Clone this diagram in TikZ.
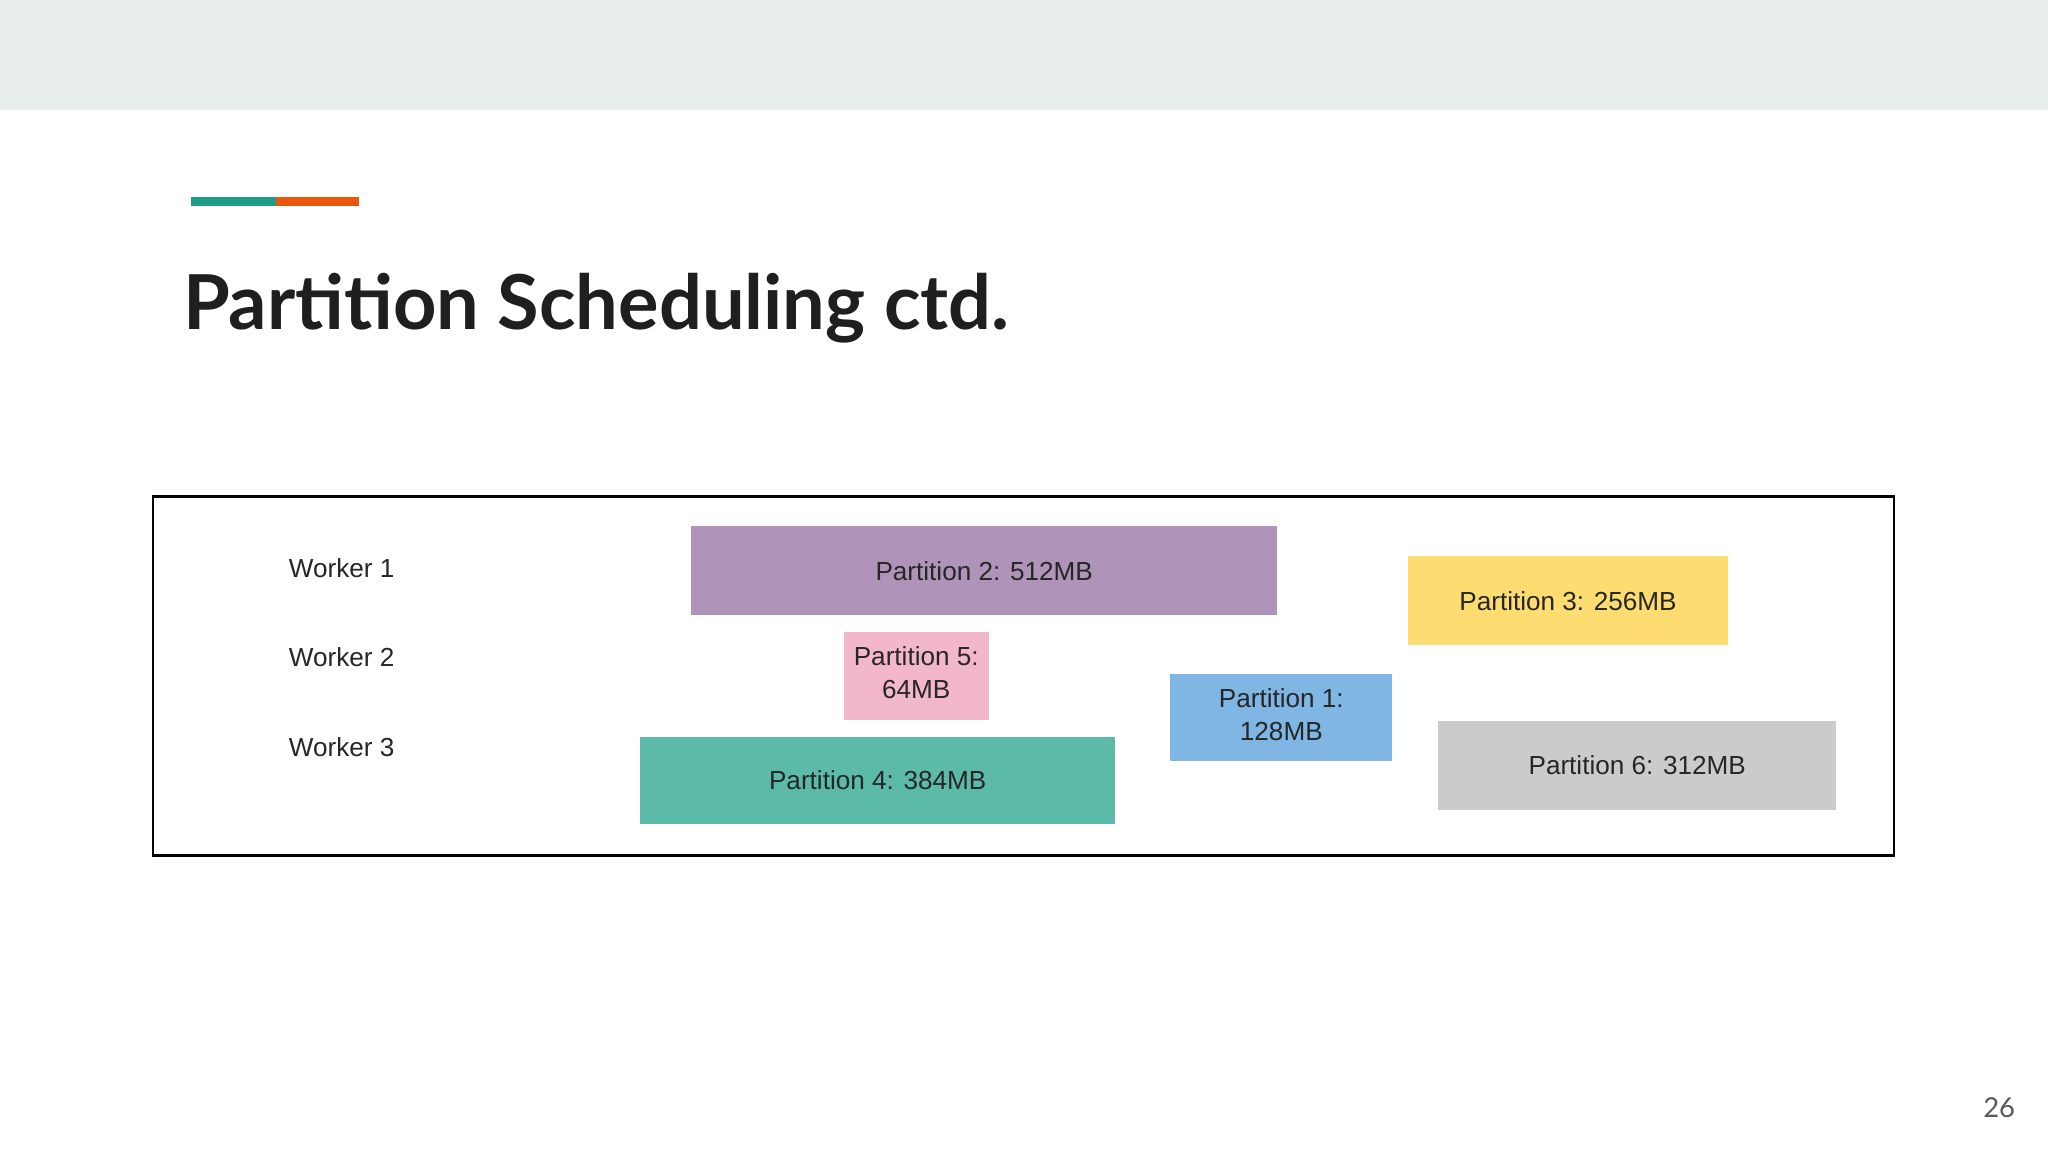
\documentclass[tikz,border=0pt]{standalone}
\usepackage{fontspec}
\setmainfont{Liberation Sans}
\newfontfamily\titlefont{Lato}
\definecolor{band}{HTML}{E8EEED}
\definecolor{teal}{HTML}{1E9C87}
\definecolor{orng}{HTML}{E8580C}
\definecolor{ptwo}{HTML}{B093B8}
\definecolor{pthree}{HTML}{FDDD71}
\definecolor{pfive}{HTML}{F3B7CB}
\definecolor{pone}{HTML}{7FB6E3}
\definecolor{pfour}{HTML}{5BBAA8}
\definecolor{psix}{HTML}{CBCBCB}
\tikzset{part/.style={inner sep=0pt,align=center,font=\fontsize{20}{25}\selectfont,text=black!85}}
\begin{document}
\begin{tikzpicture}[x=1pt,y=-1pt]
\useasboundingbox (0,0) rectangle (1568,882);
\fill[white] (0,0) rectangle (1568,882);
\fill[band] (0,0) rectangle (1568,84);
\fill[teal] (146,151) rectangle (211,158);
\fill[orng] (211,151) rectangle (275,158);
\node[anchor=base west,inner sep=0pt,font=\titlefont\bfseries\fontsize{58}{60}\selectfont,text=black!88] (title) at (140,252) {Partition Scheduling ctd.};
\draw[line width=2pt] (117,380) rectangle (1450,655);
\fill[ptwo] (529,403) rectangle (978,471) node[part] (p2) at (753.5,437) {Partition 2: 512MB};
\fill[pthree] (1078,426) rectangle (1323,494) node[part] (p3) at (1200.5,460) {Partition 3: 256MB};
\fill[pfive] (646,484) rectangle (757,551) node[part] (p5) at (701.5,515) {Partition 5:\\64MB};
\fill[pone] (896,516) rectangle (1066,583) node[part] (p1) at (981,547) {Partition 1:\\128MB};
\fill[pfour] (490,564) rectangle (854,631) node[part] (p4) at (672,597) {Partition 4: 384MB};
\fill[psix] (1101,552) rectangle (1406,620) node[part] (p6) at (1253.5,586) {Partition 6: 312MB};
\node[part,anchor=west] (w1) at (221,435) {Worker 1};
\node[part,anchor=west] (w2) at (221,503) {Worker 2};
\node[part,anchor=west] (w3) at (221,572) {Worker 3};
\node[anchor=east,inner sep=0pt,font=\titlefont\fontsize{21}{24}\selectfont,text=black!65] (pg) at (1543,848) {26};
\end{tikzpicture}
\end{document}
